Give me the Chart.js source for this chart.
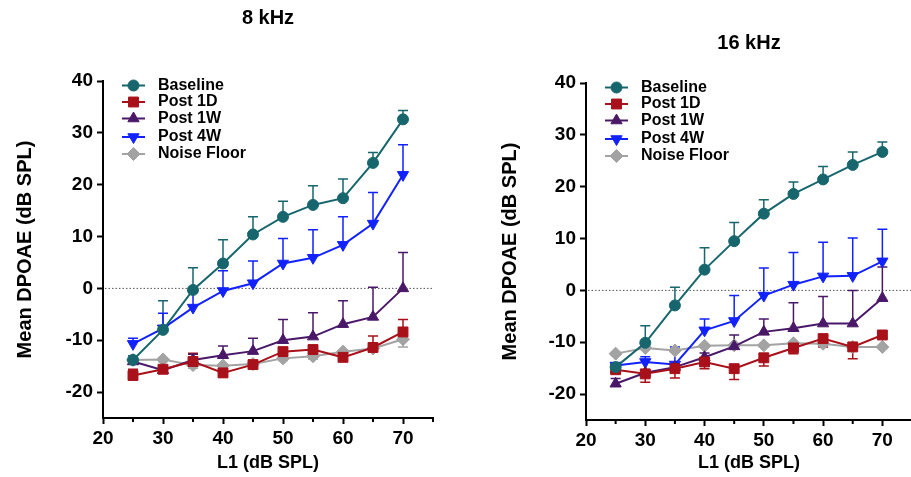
<!DOCTYPE html>
<html>
<head>
<meta charset="utf-8">
<script src="https://cdn.jsdelivr.net/npm/chart.js@4.4.0/dist/chart.umd.min.js"></script>
<style>
  html, body { margin: 0; padding: 0; background: #fff; overflow: hidden; }
  #wrap { position: relative; width: 911px; height: 477px; overflow: hidden; }
  .panel { position: absolute; top: 0; height: 477px; }
  #p8 { left: 0; width: 455px; }
  #p16 { left: 455px; width: 465px; }
</style>
</head>
<body>
<div id="wrap">
  <div class="panel" id="p8"><canvas id="chart8"></canvas></div>
  <div class="panel" id="p16"><canvas id="chart16"></canvas></div>
</div>
<script>
const levels = [25, 30, 35, 40, 45, 50, 55, 60, 65, 70];
const seriesNames = ['Baseline', 'Post 1D', 'Post 1W', 'Post 4W', 'Noise Floor'];
const xTicks = [20, 30, 40, 50, 60, 70];
const xMinorTicks = [25, 35, 45, 55, 65, 75];
const yTicks = [-20, -10, 0, 10, 20, 30, 40];

// 8 kHz (mean and SEM)
const base8 = [-13.8, -8.0, -0.3, 4.8, 10.4, 13.8, 16.1, 17.4, 24.2, 32.6];
const base8Err = [0.8, 5.6, 4.3, 4.6, 3.4, 3.0, 3.7, 3.7, 2.0, 1.7];
const post1d8 = [-16.8, -15.6, -14.1, -16.3, -14.7, -12.2, -11.8, -13.3, -11.4, -8.4];
const post1d8Err = [1.2, 0.5, 1.6, 0.5, 0.8, 0.8, 0.8, 1.3, 2.2, 2.4];
const post1w8 = [-14.1, -15.8, -13.8, -12.9, -12.1, -10.0, -9.3, -6.9, -5.5, 0.0];
const post1w8Err = [0.5, 0.5, 1.1, 1.8, 2.5, 4.0, 4.6, 4.5, 5.7, 6.9];
const post4w8 = [-10.7, -7.7, -3.7, -0.5, 1.0, 4.8, 5.9, 8.4, 12.5, 21.9];
const post4w8Err = [1.1, 2.9, 2.9, 3.9, 4.3, 4.8, 5.4, 5.4, 6.0, 5.8];
const noise8 = [-13.8, -13.7, -14.8, -14.9, -14.6, -13.5, -13.1, -12.2, -11.6, -9.8];
const noise8Err = [0.4, 0.4, 0.6, 0.5, 0.4, 0.4, 0.5, 0.5, 0.6, 1.5];

// 16 kHz (mean and SEM)
const base16 = [-14.8, -10.1, -2.9, 4.0, 9.5, 14.8, 18.6, 21.4, 24.2, 26.7];
const base16Err = [0.5, 3.3, 3.5, 4.2, 3.6, 2.7, 2.3, 2.5, 2.5, 1.9];
const post1d16 = [-15.3, -16.1, -15.1, -13.8, -15.1, -13.0, -11.1, -9.3, -10.9, -8.6];
const post1d16Err = [0.5, 1.6, 1.8, 1.3, 2.1, 1.6, 1.1, 1.6, 2.3, 0.5];
const post1w16 = [-18.0, -15.9, -14.8, -12.9, -10.8, -8.0, -7.3, -6.4, -6.4, -1.5];
const post1w16Err = [1.0, 0.5, 0.5, 0.8, 2.2, 2.5, 4.9, 5.2, 6.4, 6.0];
const post4w16 = [-14.5, -13.8, -14.3, -7.7, -5.9, -1.0, 1.1, 2.7, 2.8, 5.6];
const post4w16Err = [0.5, 1.0, 3.4, 2.2, 4.9, 5.3, 6.2, 6.6, 7.3, 6.2];
const noise16 = [-12.2, -11.1, -11.6, -10.7, -10.6, -10.6, -10.2, -10.3, -10.9, -10.9];
const noise16Err = [0.3, 0.3, 0.3, 0.3, 0.3, 0.3, 0.3, 0.3, 0.3, 0.3];

const colors = ['#17666d', '#a8101a', '#4a1868', '#1222ff', '#a3a3a3'];
const styles = [
  { pointStyle: 'circle', radius: 5.5, rotation: 0 },
  { pointStyle: 'rect', radius: 7, rotation: 0 },
  { pointStyle: 'triangle', radius: 6.5, rotation: 0 },
  { pointStyle: 'triangle', radius: 6.5, rotation: 180 },
  { pointStyle: 'rectRot', radius: 6.5, rotation: 0 },
];

Chart.defaults.font.family = "'Liberation Sans', Arial, sans-serif";
Chart.defaults.font.weight = 'bold';
Chart.defaults.color = '#000';

// error bars, zero line and minor ticks
const extrasPlugin = {
  id: 'extras',
  beforeDatasetsDraw(chart) {
    const { ctx, chartArea, scales: { x, y } } = chart;
    ctx.save();
    const y0 = y.getPixelForValue(0);
    ctx.strokeStyle = '#555';
    ctx.lineWidth = 1;
    ctx.setLineDash([1.5, 2]);
    ctx.beginPath();
    ctx.moveTo(chartArea.left + 2, y0);
    ctx.lineTo(chartArea.right, y0);
    ctx.stroke();
    ctx.setLineDash([]);

    ctx.lineWidth = 1.5;
    chart.data.datasets.forEach(ds => {
      ctx.strokeStyle = ds.borderColor;
      ds.data.forEach((p, i) => {
        const e = ds.errors[i];
        if (!e) return;
        const px = x.getPixelForValue(p.x);
        const py = y.getPixelForValue(p.y);
        const pe = y.getPixelForValue(p.y + ds.errorDir * e);
        ctx.beginPath();
        ctx.moveTo(px, py);
        ctx.lineTo(px, pe);
        ctx.moveTo(px - 5, pe);
        ctx.lineTo(px + 5, pe);
        ctx.stroke();
      });
    });
    ctx.restore();
  },
  afterDraw(chart) {
    const { ctx, chartArea, scales: { x } } = chart;
    ctx.save();
    ctx.strokeStyle = '#000';
    ctx.lineWidth = 2;
    ctx.beginPath();
    xMinorTicks.forEach(v => {
      const px = x.getPixelForValue(v);
      ctx.moveTo(px, chartArea.bottom);
      ctx.lineTo(px, chartArea.bottom + 4);
    });
    ctx.stroke();

    // legend: line + marker + label
    const rows = [4.5, 21, 37.5, 56, 73];
    chart.data.datasets.forEach((ds, i) => {
      const cy = chartArea.top + rows[i];
      const lx = chartArea.left + 19;
      ctx.strokeStyle = ds.borderColor;
      ctx.lineWidth = 2;
      ctx.beginPath();
      ctx.moveTo(lx, cy);
      ctx.lineTo(lx + 23, cy);
      ctx.stroke();
      ctx.fillStyle = ds.backgroundColor;
      ctx.lineWidth = 1;
      Chart.helpers.drawPoint(ctx, {
        pointStyle: ds.pointStyle,
        rotation: ds.pointRotation,
        radius: ds.pointRadius,
        borderWidth: 1,
      }, lx + 11.5, cy);
      ctx.fillStyle = '#000';
      ctx.font = "bold 16px 'Liberation Sans', Arial, sans-serif";
      ctx.textAlign = 'left';
      ctx.textBaseline = 'middle';
      ctx.fillText(ds.label, chartArea.left + 55, cy);
    });
    ctx.restore();
  }
};

function makeChart(id, title, means, errs, dirs, geo) {
  const datasets = seriesNames.map((name, i) => ({
    label: name,
    data: levels.map((lv, j) => ({ x: lv, y: means[i][j] })),
    errors: errs[i],
    errorDir: dirs[i],
    borderColor: colors[i],
    backgroundColor: colors[i],
    borderWidth: 2,
    pointStyle: styles[i].pointStyle,
    pointRadius: styles[i].radius,
    pointRotation: styles[i].rotation,
    pointBorderWidth: 1,
    tension: 0,
  }));

  new Chart(document.getElementById(id), {
    type: 'line',
    data: { datasets: datasets },
    options: {
      responsive: true,
      maintainAspectRatio: false,
      animation: false,
      layout: { padding: { left: 0, right: geo.padRight, top: 0, bottom: 0 } },
      plugins: {
        legend: { display: false },
        tooltip: { enabled: false },
        title: {
          display: true,
          text: title,
          fullSize: false,
          font: { size: 20, weight: 'bold' },
          color: '#000',
          padding: geo.titlePad,
        },
      },
      scales: {
        x: {
          type: 'linear',
          min: 20,
          max: 75,
          afterBuildTicks: s => { s.ticks = xTicks.map(v => ({ value: v })); },
          afterFit: s => { s.height = geo.xHeight; },
          grid: { drawOnChartArea: false, tickLength: 6, tickWidth: 2, tickColor: '#000' },
          border: { color: '#000', width: 2 },
          ticks: { font: { size: 19, weight: 'bold' }, padding: 3, color: '#000', maxRotation: 0, callback: v => String(v) },
          title: { display: true, text: 'L1 (dB SPL)', font: { size: 18, weight: 'bold' }, color: '#000', padding: { top: 0, bottom: 3 } },
        },
        y: {
          type: 'linear',
          min: -25,
          max: 40,
          afterBuildTicks: s => { s.ticks = yTicks.map(v => ({ value: v })); },
          afterFit: s => { s.width = geo.yWidth; },
          grid: { drawOnChartArea: false, tickLength: 6, tickWidth: 2, tickColor: '#000' },
          border: { color: '#000', width: 2 },
          ticks: { font: { size: 19, weight: 'bold' }, padding: 4, color: '#000', callback: v => String(v) },
          title: { display: true, text: 'Mean DPOAE (dB SPL)', font: { size: 20, weight: 'bold' }, color: '#000', padding: { top: geo.yTitleTop, bottom: 0 } },
        },
      },
    },
    plugins: [extrasPlugin],
  });
}

makeChart('chart8', '8 kHz',
  [base8, post1d8, post1w8, post4w8, noise8],
  [base8Err, post1d8Err, post1w8Err, post4w8Err, noise8Err],
  [1, 1, 1, 1, -1],
  { padRight: 22, titlePad: { top: 6, bottom: 51 }, yWidth: 103, yTitleTop: 13, xHeight: 59 });

makeChart('chart16', '16 kHz',
  [base16, post1d16, post1w16, post4w16, noise16],
  [base16Err, post1d16Err, post1w16Err, post4w16Err, noise16Err],
  [1, -1, 1, 1, -1],
  { padRight: 3, titlePad: { top: 31, bottom: 28 }, yWidth: 131, yTitleTop: 43, xHeight: 57 });
</script>
</body>
</html>
